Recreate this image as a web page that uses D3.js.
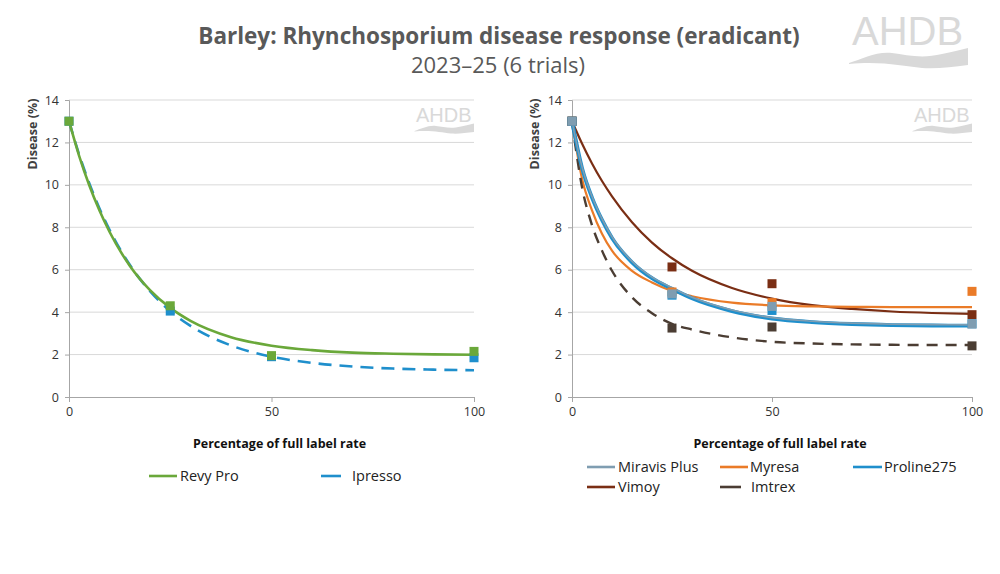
<!DOCTYPE html>
<html><head><meta charset="utf-8">
<script src="https://cdn.jsdelivr.net/npm/d3@7"></script>
<style>
html,body{margin:0;padding:0;background:#fff;}
svg{display:block;font-family:"Open Sans","Noto Sans",sans-serif;}
</style></head>
<body><svg id="chart" width="1000" height="574"></svg>
<script>
// ---------- data ----------
const titleText = "Barley: Rhynchosporium disease response (eradicant)";
const subtitleText = "2023–25 (6 trials)";
const xTicks = [0, 50, 100];
const yTicks = [0, 2, 4, 6, 8, 10, 12, 14];
const xTitle = "Percentage of full label rate";
const yTitle = "Disease (%)";
const doseX = [0, 25, 50, 100];
const curveX = [0, 2.5, 5, 7.5, 10, 15, 20, 25, 30, 40, 50, 60, 70, 80, 90, 100];

// left panel
const revyProPoints = [13.0, 4.3, 1.95, 2.15];
const revyProCurve  = [13.0, 11.37, 9.98, 8.80, 7.79, 6.19, 5.04, 4.20, 3.59, 2.82, 2.42, 2.21, 2.09, 2.04, 2.01, 1.99];
const ipressoPoints = [13.0, 4.05, 1.9, 1.85];
const ipressoCurve  = [13.0, 11.43, 10.08, 8.90, 7.88, 6.23, 4.99, 4.05, 3.35, 2.43, 1.90, 1.61, 1.44, 1.34, 1.29, 1.26];

// right panel
const miravisPoints = [13.0, 4.86, 4.27, 3.44];
const miravisCurve  = [13.0, 10.85, 9.45, 8.40, 7.55, 6.40, 5.65, 5.15, 4.70, 4.10, 3.74, 3.57, 3.48, 3.43, 3.41, 3.40];
const myresaPoints  = [13.0, 4.95, 4.45, 4.98];
const myresaCurve   = [13.0, 10.3, 8.8, 7.7, 6.9, 5.95, 5.4, 5.0, 4.75, 4.45, 4.32, 4.27, 4.25, 4.24, 4.24, 4.24];
const prolinePoints = [13.0, 4.8, 4.08, 3.45];
const prolineCurve  = [13.0, 10.8, 9.4, 8.35, 7.5, 6.35, 5.6, 5.1, 4.65, 4.05, 3.7, 3.53, 3.44, 3.39, 3.37, 3.36];
const vimoyPoints   = [13.0, 6.13, 5.34, 3.88];
const vimoyCurve    = [13.0, 11.95, 11.01, 10.18, 9.46, 8.24, 7.28, 6.54, 5.95, 5.14, 4.64, 4.33, 4.15, 4.03, 3.96, 3.92];
const imtrexPoints  = [13.0, 3.25, 3.30, 2.41];
const imtrexCurve   = [13.0, 9.9, 8.1, 6.9, 5.95, 4.7, 3.95, 3.45, 3.18, 2.81, 2.6, 2.52, 2.48, 2.46, 2.45, 2.45];

// ---------- styles / layout ----------
const leftSeries = [
  {name:"Ipresso",  pts:ipressoPoints, crv:ipressoCurve, color:"#1f8fcc", width:2.6, dash:"13,8"},
  {name:"Revy Pro", pts:revyProPoints, crv:revyProCurve, color:"#6aa83a", width:2.6, dash:null}
];
const rightSeries = [
  {name:"Vimoy",        pts:vimoyPoints,   crv:vimoyCurve,   color:"#7a2e14", width:2.2, dash:null},
  {name:"Myresa",       pts:myresaPoints,  crv:myresaCurve,  color:"#ea7b28", width:2.2, dash:null},
  {name:"Imtrex",       pts:imtrexPoints,  crv:imtrexCurve,  color:"#4b3d33", width:2.4, dash:"11,8"},
  {name:"Proline275",   pts:prolinePoints, crv:prolineCurve, color:"#1f8fcc", width:3.8, dash:null},
  {name:"Miravis Plus", pts:miravisPoints, crv:miravisCurve, color:"#7f9db1", width:1.6, dash:null}
];

const svg = d3.select("#chart");
const yScale = d3.scaleLinear().domain([0, 14]).range([397, 100]);

svg.append("text").attr("x", 499).attr("y", 44).attr("text-anchor","middle")
  .attr("font-size", 22.5).attr("font-weight", 700).attr("fill","#595959").text(titleText);
svg.append("text").attr("x", 498).attr("y", 73).attr("text-anchor","middle")
  .attr("font-size", 22).attr("fill","#595959").text(subtitleText);

function logo(g, x, y, s) {
  const lg = g.append("g").attr("transform", `translate(${x},${y}) scale(${s})`);
  lg.append("text").attr("x", 0).attr("y", 0).attr("font-size", 40)
    .attr("font-family", "Liberation Sans, Arial, sans-serif")
    .attr("fill", "#d9d9d9").text("AHDB");
  lg.append("path")
    .attr("d", "M-3,18 C10,14 25,6 40,8 C55,10 70,14 90,9 C100,7 108,5 116,3 L116,20 C100,22 85,24 70,23 C50,21 30,16 -3,19 Z")
    .attr("fill", "#d9d9d9");
}
logo(svg, 852, 45, 1);

function panel(x0, x1, series, yTitleX) {
  const xScale = d3.scaleLinear().domain([0, 100]).range([x0, x1]);
  const g = svg.append("g");
  // grid
  g.selectAll("line.grid").data(yTicks.filter(d => d > 0)).join("line")
    .attr("x1", x0).attr("x2", x1).attr("y1", d => yScale(d)).attr("y2", d => yScale(d))
    .attr("stroke", "#d9d9d9").attr("stroke-width", 1);
  logo(g, x1 - 58, 122, 0.5);
  // axes
  const yAxis = d3.axisLeft(yScale).tickValues(yTicks).tickSize(4).tickPadding(6);
  const ya = g.append("g").attr("transform", `translate(${x0},0)`).call(yAxis);
  const xAxis = d3.axisBottom(xScale).tickValues(xTicks).tickSize(5).tickPadding(5);
  const xa = g.append("g").attr("transform", `translate(0,${yScale(0)})`).call(xAxis);
  [ya, xa].forEach(a => {
    a.select(".domain").attr("stroke", "#a6a6a6");
    a.selectAll(".tick line").attr("stroke", "#a6a6a6");
    a.selectAll(".tick text").attr("font-size", 12.5).attr("fill", "#333")
      .attr("font-family", '"Open Sans","Noto Sans",sans-serif');
  });
  // titles
  g.append("text").attr("transform", `translate(${yTitleX},134) rotate(-90)`).attr("text-anchor","middle")
    .attr("font-size", 12.5).attr("font-weight", 700).attr("fill", "#404040").text(yTitle);
  g.append("text").attr("x", (x0 + x1) / 2 + 8).attr("y", 448).attr("text-anchor","middle")
    .attr("font-size", 12.5).attr("font-weight", 700).attr("fill", "#111").text(xTitle);
  // curves
  const line = d3.line().x((d, i) => xScale(curveX[i])).y(d => yScale(d)).curve(d3.curveMonotoneX);
  series.forEach(s => {
    g.append("path").attr("d", line(s.crv)).attr("fill", "none")
      .attr("stroke", s.color).attr("stroke-width", s.width)
      .attr("stroke-dasharray", s.dash);
  });
  // markers
  series.forEach(s => {
    g.selectAll(null).data(s.pts).join("rect")
      .attr("x", (d, i) => xScale(doseX[i]) - 4.5).attr("y", d => yScale(d) - 4.5)
      .attr("width", 9).attr("height", 9).attr("fill", s.color);
  });
  return g;
}
panel(69, 474, leftSeries, 37);
panel(572, 972, rightSeries, 539);

// legends
function legendItem(x, y, len, name, color, textX) {
  svg.append("line").attr("x1", x).attr("x2", x + len).attr("y1", y).attr("y2", y)
    .attr("stroke", color).attr("stroke-width", 2.6);
  svg.append("text").attr("x", textX).attr("y", y + 5).attr("font-size", 14.5)
    .attr("fill", "#222").text(name);
}
const leftLegend = ["Revy Pro", "Ipresso"];
legendItem(149, 476, 28, leftLegend[0], "#6aa83a", 180);
legendItem(321, 476, 20, leftLegend[1], "#1f8fcc", 352);

const rightLegend = ["Miravis Plus", "Myresa", "Proline275", "Vimoy", "Imtrex"];
legendItem(587, 467, 28, rightLegend[0], "#7f9db1", 618);
legendItem(720, 467, 28, rightLegend[1], "#ea7b28", 750);
legendItem(853, 467, 29, rightLegend[2], "#1f8fcc", 884);
legendItem(587, 487, 28, rightLegend[3], "#7a2e14", 618);
legendItem(720, 487, 21, rightLegend[4], "#4b3d33", 751);
</script></body></html>
